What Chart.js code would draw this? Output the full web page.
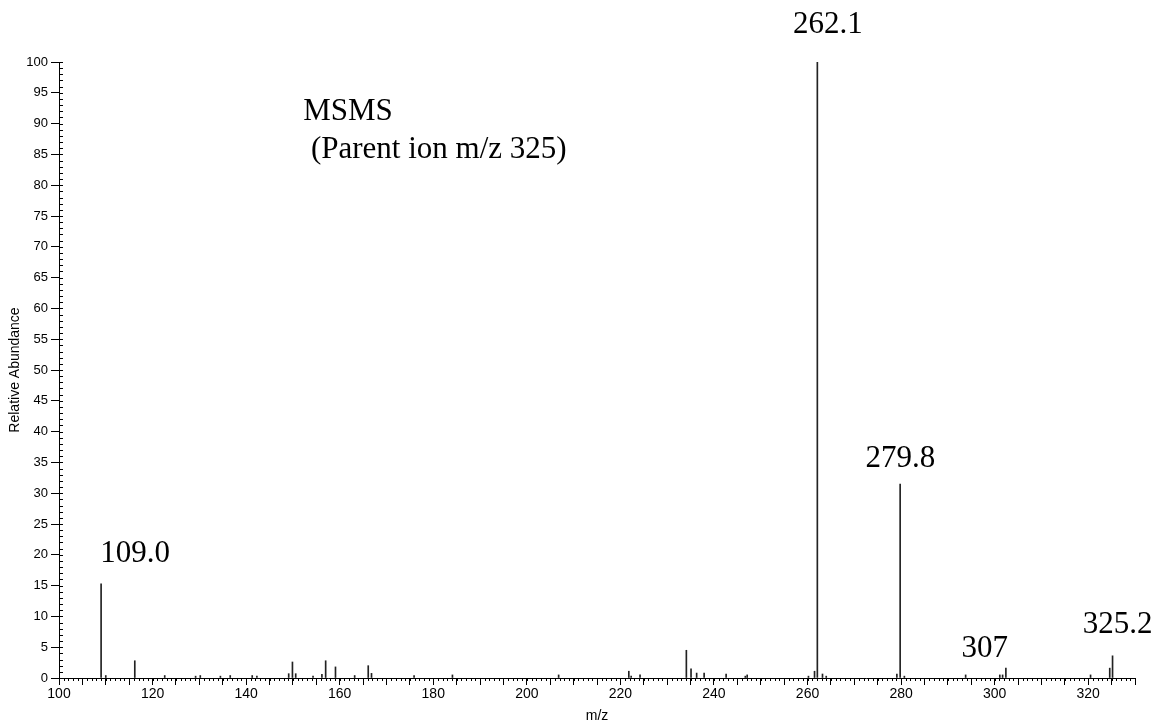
<!DOCTYPE html>
<html>
<head>
<meta charset="utf-8">
<script src="https://cdn.jsdelivr.net/npm/chart.js"></script>
<style>
  html, body { margin: 0; padding: 0; background: #fff; }
  #wrap { width: 1159px; height: 725px; }
</style>
</head>
<body>
<div id="wrap"><canvas id="spectrumChart" width="1159" height="725"></canvas></div>
<script>
// m/z of each peak and its relative abundance (%)
const mzValues = [
  109.0, 110.0, 116.2, 122.6, 129.2, 130.2, 134.5, 136.6, 141.3, 142.3,
  149.1, 149.9, 150.6, 154.3, 156.2, 157.0, 159.1, 163.2, 166.1, 166.8,
  175.9, 184.1, 206.8, 221.8, 222.3, 224.2, 234.1, 235.1, 236.3, 237.9,
  242.6, 246.7, 247.1, 260.2, 261.5, 262.1, 263.2, 264.0, 279.1, 279.8,
  280.7, 293.8, 301.1, 301.7, 302.4, 320.5, 324.6, 325.2
];
const abundance = [
  15.3, 0.4, 2.8, 0.4, 0.3, 0.4, 0.3, 0.4, 0.4, 0.3,
  0.7, 2.6, 0.7, 0.3, 0.6, 2.8, 1.8, 0.4, 2.0, 0.75,
  0.4, 0.5, 0.5, 1.1, 0.3, 0.5, 4.5, 1.5, 0.8, 0.8,
  0.65, 0.3, 0.5, 0.3, 1.1, 100, 0.65, 0.3, 0.65, 31.5,
  0.3, 0.5, 0.5, 0.5, 1.6, 0.5, 1.6, 3.6
];

// axis ranges
const xMin = 100, xMax = 330;
const yMin = 0, yMax = 100;

// peak annotations (text, centre m/z, baseline abundance)
const peakLabels = ['109.0', '262.1', '279.8', '307', '325.2'];
const peakLabelX = [116.25, 264.35, 279.85, 297.9, 326.3];
const peakLabelY = [18.8, 104.7, 34.25, 3.4, 7.3];

// note in the upper left
const noteLines = ['MSMS', ' (Parent ion m/z 325)'];
const noteX = 152.2;
const noteY = [90.6, 84.4];

const minorTicks = {
  id: 'minorTicks',
  afterDraw(chart) {
    const { ctx, scales: { x, y } } = chart;
    ctx.save();
    ctx.strokeStyle = '#000';
    ctx.lineWidth = 1;
    ctx.beginPath();
    for (let v = xMin; v <= xMax; v++) {
      const px = Math.round(x.getPixelForValue(v)) + 0.5;
      ctx.moveTo(px, y.bottom);
      ctx.lineTo(px, y.bottom + 3);
    }
    for (let v = yMin; v <= yMax; v++) {
      const py = Math.round(y.getPixelForValue(v)) + 0.5;
      ctx.moveTo(x.left, py);
      ctx.lineTo(x.left + 4, py);
    }
    ctx.stroke();
    ctx.restore();
  }
};

const annotations = {
  id: 'annotations',
  afterDraw(chart) {
    const { ctx, scales: { x, y } } = chart;
    ctx.save();
    ctx.fillStyle = '#000';
    ctx.font = '31px "Liberation Serif", "Times New Roman", serif';
    ctx.textBaseline = 'alphabetic';
    ctx.textAlign = 'center';
    peakLabels.forEach((t, i) => {
      ctx.fillText(t, x.getPixelForValue(peakLabelX[i]), y.getPixelForValue(peakLabelY[i]));
    });
    ctx.textAlign = 'left';
    noteLines.forEach((t, i) => {
      ctx.fillText(t, x.getPixelForValue(noteX), y.getPixelForValue(noteY[i]));
    });
    ctx.restore();
  }
};

const ctx = document.getElementById('spectrumChart').getContext('2d');
const chart = new Chart(ctx, {
  type: 'bar',
  data: {
    datasets: [{
      label: 'Relative Abundance',
      data: mzValues.map((m, i) => ({ x: m, y: abundance[i] })),
      backgroundColor: '#222',
      borderWidth: 0,
      barThickness: 1
    }]
  },
  options: {
    responsive: false,
    animation: false,
    devicePixelRatio: 1,
    layout: {
      padding: { top: 62, right: 24, left: 0, bottom: 0 }
    },
    plugins: {
      legend: { display: false },
      tooltip: { enabled: false }
    },
    scales: {
      x: {
        type: 'linear',
        min: xMin,
        max: xMax,
        offset: false,
        afterBuildTicks(scale) {
          const ticks = [];
          for (let v = xMin; v <= xMax; v += 5) ticks.push({ value: v });
          scale.ticks = ticks;
        },
        afterFit(scale) { scale.height = 47; },
        ticks: {
          autoSkip: false,
          maxRotation: 0,
          padding: 1,
          color: '#000',
          font: { family: '"Liberation Sans", Arial, sans-serif', size: 14 },
          callback: v => (v % 20 === 0 ? String(v) : '')
        },
        grid: {
          offset: false,
          drawOnChartArea: false,
          drawTicks: true,
          tickLength: 7,
          color: '#000'
        },
        border: { display: true, color: '#000', width: 1 },
        title: {
          display: true,
          text: 'm/z',
          color: '#000',
          padding: { top: 0, bottom: 0 },
          font: { family: '"Liberation Sans", Arial, sans-serif', size: 14 }
        }
      },
      y: {
        min: yMin,
        max: yMax,
        afterBuildTicks(scale) {
          const ticks = [];
          for (let v = yMin; v <= yMax; v += 5) ticks.push({ value: v });
          scale.ticks = ticks;
        },
        afterFit(scale) { scale.width = 59; },
        ticks: {
          autoSkip: false,
          padding: 3,
          color: '#000',
          font: { family: '"Liberation Sans", Arial, sans-serif', size: 13 }
        },
        grid: {
          drawOnChartArea: false,
          drawTicks: true,
          tickLength: 8,
          color: '#000'
        },
        border: { display: true, color: '#000', width: 1 },
        title: {
          display: true,
          text: 'Relative Abundance',
          color: '#000',
          padding: { top: 7, bottom: 0 },
          font: { family: '"Liberation Sans", Arial, sans-serif', size: 14 }
        }
      }
    }
  },
  plugins: [minorTicks, annotations]
});
</script>
</body>
</html>
